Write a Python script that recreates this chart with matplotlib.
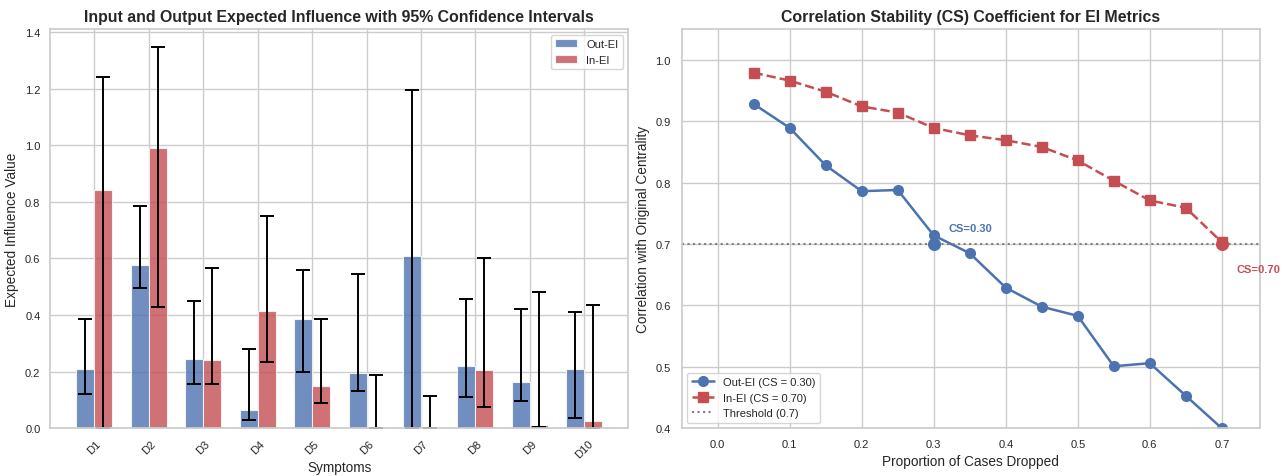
import numpy as np
import matplotlib.pyplot as plt
import seaborn as sns

sns.set_theme(style="whitegrid")
plt.rcParams["font.family"] = ["Liberation Sans", "DejaVu Sans"]

symptoms = ["D1", "D2", "D3", "D4", "D5", "D6", "D7", "D8", "D9", "D10"]
out_ei = [0.21, 0.575, 0.245, 0.065, 0.385, 0.195, 0.61, 0.22, 0.165, 0.21]
in_ei = [0.84, 0.99, 0.24, 0.415, 0.15, 0.0, 0.0, 0.205, 0.01, 0.025]
out_lo = [0.12, 0.495, 0.155, 0.03, 0.20, 0.13, 0.0, 0.11, 0.095, 0.035]
out_hi = [0.385, 0.785, 0.45, 0.28, 0.56, 0.545, 1.195, 0.455, 0.42, 0.41]
in_lo = [0.0, 0.43, 0.155, 0.235, 0.09, 0.0, 0.0, 0.075, 0.005, 0.0]
in_hi = [1.24, 1.345, 0.565, 0.75, 0.385, 0.19, 0.115, 0.60, 0.48, 0.435]

prop_dropped = [0.05, 0.1, 0.15, 0.2, 0.25, 0.3, 0.35, 0.4, 0.45, 0.5, 0.55, 0.6, 0.65, 0.7]
out_corr = [0.928, 0.889, 0.828, 0.786, 0.788, 0.714, 0.685, 0.629, 0.598, 0.583, 0.501, 0.506, 0.453, 0.40]
in_corr = [0.979, 0.966, 0.948, 0.924, 0.914, 0.889, 0.877, 0.869, 0.858, 0.836, 0.803, 0.771, 0.759, 0.703]
threshold = 0.7
cs_out = 0.30
cs_in = 0.70

blue = "#4c72b0"
red = "#c44e52"

fig, (ax1, ax2) = plt.subplots(1, 2, figsize=(12.87, 4.77), dpi=100)

# left: bars with CIs
x = np.arange(len(symptoms))
w = 0.33
out_ei = np.array(out_ei)
in_ei = np.array(in_ei)
out_err = [out_ei - np.array(out_lo), np.array(out_hi) - out_ei]
in_err = [np.clip(in_ei - np.array(in_lo), 0, None), np.array(in_hi) - in_ei]
ekw = dict(ecolor="black", elinewidth=1.4, capthick=1.4)

ax1.bar(x - w / 2, out_ei, w, color=blue, alpha=0.8, label="Out-EI",
        edgecolor="white", linewidth=0.8, yerr=out_err, capsize=5, error_kw=ekw)
ax1.bar(x + w / 2, in_ei, w, color=red, alpha=0.8, label="In-EI",
        edgecolor="white", linewidth=0.8, yerr=in_err, capsize=5, error_kw=ekw)
ax1.set_xticks(x)
ax1.set_xticklabels(symptoms, rotation=45)
ax1.set_ylim(0, 1.41)
ax1.set_xlabel("Symptoms", fontsize=9.8, labelpad=0)
ax1.set_ylabel("Expected Influence Value", fontsize=9.8)
ax1.set_title("Input and Output Expected Influence with 95% Confidence Intervals",
              fontsize=11.4, fontweight="bold")
ax1.legend(loc="upper right", fontsize=8)
ax1.tick_params(labelsize=8, pad=1)

# right: CS curves
ax2.plot(prop_dropped, out_corr, "o-", color=blue, lw=1.8, ms=7,
         label=f"Out-EI (CS = {cs_out:.2f})")
ax2.plot(prop_dropped, in_corr, "s--", color=red, lw=1.8, ms=7,
         label=f"In-EI (CS = {cs_in:.2f})")
ax2.axhline(threshold, color="gray", ls=":", lw=1.5, label="Threshold (0.7)")
ax2.scatter([cs_out], [threshold], color=blue, s=70, zorder=5)
ax2.scatter([cs_in], [threshold], color=red, s=70, zorder=5)
ax2.text(cs_out + 0.02, threshold + 0.026, f"CS={cs_out:.2f}", color=blue,
         fontsize=8, fontweight="bold", va="center")
ax2.text(cs_in + 0.02, threshold - 0.041, f"CS={cs_in:.2f}", color=red,
         fontsize=8, fontweight="bold", va="center")
ax2.set_xlim(-0.05, 0.753)
ax2.set_ylim(0.4, 1.05)
ax2.set_xlabel("Proportion of Cases Dropped", fontsize=9.8, labelpad=3)
ax2.set_ylabel("Correlation with Original Centrality", fontsize=9.8)
ax2.set_title("Correlation Stability (CS) Coefficient for EI Metrics",
              fontsize=11.4, fontweight="bold")
ax2.legend(loc="lower left", fontsize=8)
ax2.tick_params(labelsize=8, pad=2)

plt.subplots_adjust(left=0.039, right=0.979, top=0.937, bottom=0.1, wspace=0.092)
plt.savefig("out.png")
